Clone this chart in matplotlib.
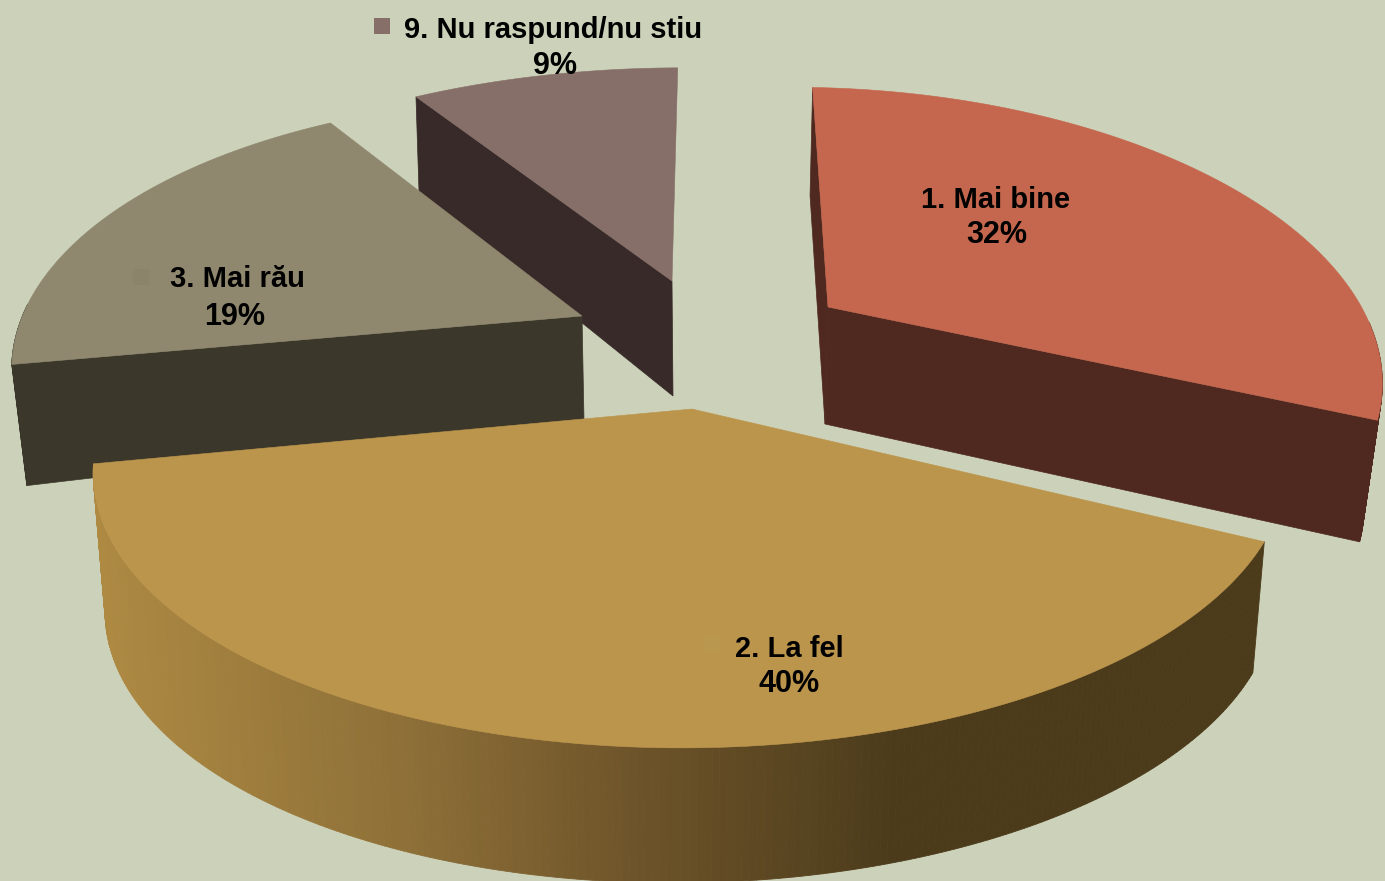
import numpy as np
import matplotlib
matplotlib.use("Agg")
import matplotlib.pyplot as plt
from matplotlib.patches import Polygon, Rectangle
from matplotlib.colors import to_rgb

# --- data
categories = ["1. Mai bine", "2. La fel", "3. Mai rău", "9. Nu raspund/nu stiu"]
values = [32, 40, 19, 9]

# --- style and layout (screen pixels, one 3D pie with exploded slices)
BG = "#CCD2BA"
top_colors = ["#C4674E", "#BC954C", "#8F876E", "#866F69"]
side_colors = ["#4F2820", "#4B3B1B", "#3B382B", "#372A28"]
draw_order = [3, 2, 0, 1]
START = 90.5
P = 0.215
slices = [
    dict(c=(828, 307), f=543, g=266, sx=7.6, sy=20, rot=4, stretch=.97, d=(-3, 117), ax=.973, ay=1.04, k=0, walls=(0, -1)),
    dict(c=(692, 409), f=583, g=266, sx=8, sy=0, rot=-1.0, stretch=.985, d=(0, 135), ax=.98, ay=1.0, k=-.007, walls=()),
    dict(c=(582, 316), f=557, g=266, sx=0, sy=6, rot=-.3, stretch=1.01, d=(2, 104), ax=.977, ay=1.0, k=-.03, walls=(0,)),
    dict(c=(672, 281), f=575, g=259, sx=12, sy=0, rot=0, stretch=1.0, d=(1, 115), ax=.992, ay=1.0, k=.078, walls=(0,)),
]
labels_xy = [(996, 200, 997, 235), (789, 649, 789, 684), (237, 279, 235, 317), (553, 30, 555, 66)]
keys_xy = [(897, 198), (712, 645), (141, 277), (382, 26)]
key_colors = ["#C4674E", "#BA974F", "#8C846A", "#866F69"]
grad_x = [100, 400, 640, 900, 1300]
grad_c = ["#AD8942", "#8E7038", "#6D5329", "#4B3B1B", "#4B3B1B"]

plt.rcParams["font.family"] = ["Liberation Sans", "DejaVu Sans"]
fig = plt.figure(figsize=(13.85, 8.81), dpi=100, facecolor=BG)
ax = fig.add_axes([0, 0, 1, 1])
ax.set_xlim(0, 1385)
ax.set_ylim(881, 0)
ax.axis("off")


def top_pts(s, t):
    r = np.radians(t)
    X, Y = np.cos(r), np.sin(r)
    w = 1 + P * Y
    dx = (s["f"] * X + s["sx"] * Y) / w
    dy = (-s["g"] * Y + s["sy"] * X) / w
    return dx, dy


def lift(s, dx, dy):
    return s["c"][0] + dx, s["c"][1] + dy


def drop(s, dx, dy):
    return (s["c"][0] + s["d"][0] + s["ax"] * dx,
            s["c"][1] + s["d"][1] + s["ay"] * dy + s["k"] * dx)


def grad(x):
    rgb = np.array([to_rgb(c) for c in grad_c])
    return tuple(np.interp(x, grad_x, rgb[:, i]) for i in range(3))


spans = [v / sum(values) * 360 for v in values]
edges = START - np.concatenate([[0], np.cumsum(spans)])

for i in draw_order:
    s = slices[i]
    t = np.linspace(edges[i], edges[i + 1], 241)
    mid = t.mean()
    t = mid + (t - mid) * s["stretch"] + s["rot"]
    dx, dy = top_pts(s, t)
    tx, ty = lift(s, dx, dy)
    bx, by = drop(s, dx, dy)
    ax0, ay0 = lift(s, 0, 0)
    bx0, by0 = drop(s, 0, 0)
    # radial side walls that face the viewer
    for j in s["walls"]:
        ax.add_patch(Polygon([(ax0, ay0), (tx[j], ty[j]), (bx[j], by[j]), (bx0, by0)],
                             fc=side_colors[i], ec=side_colors[i], lw=.5))
    # outer wall, front-facing part only
    for j in range(len(t) - 1):
        if np.sin(np.radians(t[j])) > 0.02:
            continue
        col = grad((tx[j] + tx[j + 1]) / 2) if i == 1 else side_colors[i]
        ax.add_patch(Polygon([(tx[j], ty[j]), (tx[j + 1], ty[j + 1]),
                              (bx[j + 1], by[j + 1]), (bx[j], by[j])],
                             fc=col, ec=col, lw=.6))
    # top face
    ax.add_patch(Polygon(np.column_stack([np.r_[ax0, tx], np.r_[ay0, ty]]),
                         fc=top_colors[i], ec=top_colors[i], lw=.4))

for i, name in enumerate(categories):
    x1, y1, x2, y2 = labels_xy[i]
    ax.text(x1, y1, name, ha="center", va="center", fontsize=21, fontweight="bold", color="black")
    ax.text(x2, y2, f"{values[i]}%", ha="center", va="center", fontsize=22, fontweight="bold", color="black")
    kx, ky = keys_xy[i]
    ax.add_patch(Rectangle((kx - 8, ky - 8), 16, 16, fc=key_colors[i], ec="none"))

fig.savefig("out.png", dpi=100, facecolor=BG)
